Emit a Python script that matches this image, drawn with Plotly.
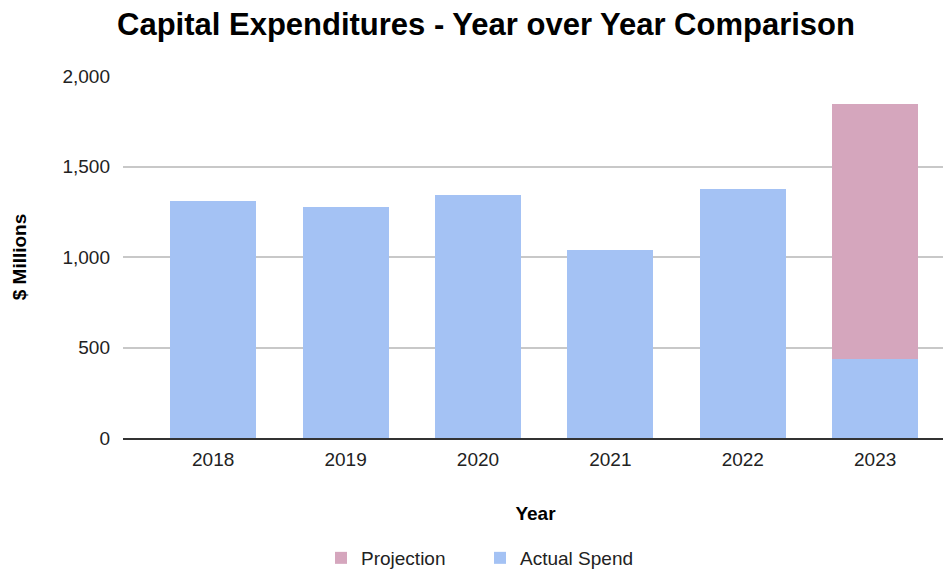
import plotly.graph_objects as go

years = ["2018", "2019", "2020", "2021", "2022", "2023"]
actual_spend = [1310, 1275, 1340, 1040, 1378, 435]
projection = [None, None, None, None, None, 1412]

FONT = "Liberation Sans, Arial, sans-serif"
W, H = 943, 563  # page body adds an 8px offset

fig = go.Figure()
fig.add_trace(go.Bar(x=years, y=actual_spend, name="Actual Spend",
                     marker=dict(color="#a4c2f4", line=dict(width=0))))
fig.add_trace(go.Bar(x=years, y=projection, name="Projection",
                     marker=dict(color="#d5a6bd", line=dict(width=0))))

fig.update_layout(
    width=W, height=H,
    barmode="stack", bargap=0.35,
    plot_bgcolor="white", paper_bgcolor="white",
    font=dict(family=FONT, size=19, color="#222222"),
    margin=dict(l=115, r=3, t=68, b=133),
    title=dict(text="<b>Capital Expenditures - Year over Year Comparison</b>",
               x=478/W, xref="container", xanchor="center",
               y=1 - 16/H, yref="container", yanchor="middle",
               font=dict(family=FONT, size=31, color="#000000")),
    legend=dict(orientation="h", traceorder="reversed", entrywidth=114,
                x=472/W, xref="container", xanchor="center",
                y=1 - 550/H, yref="container", yanchor="middle",
                font=dict(size=19, color="#222222")),
    showlegend=True,
)
fig.update_xaxes(
    range=[-0.681, 5.55],
    showgrid=False, ticks="", tickfont=dict(size=19, color="#222222"),
    ticklabelstandoff=3,
    title=dict(text="<b>Year</b>", font=dict(size=19, color="#000000"), standoff=38),
    showline=True, linecolor="#333333", linewidth=2,
)
fig.update_yaxes(
    range=[0, 2000], tickvals=[0, 500, 1000, 1500, 2000], tickformat=",",
    showgrid=True, gridcolor="#c8c8c8", gridwidth=1.5,
    zeroline=False, ticks="", ticklabelstandoff=12,
    tickfont=dict(size=19, color="#222222"),
    title=dict(text="<b>$ Millions</b>", font=dict(size=19, color="#000000"), standoff=30),
)
fig.write_html("out.html")
